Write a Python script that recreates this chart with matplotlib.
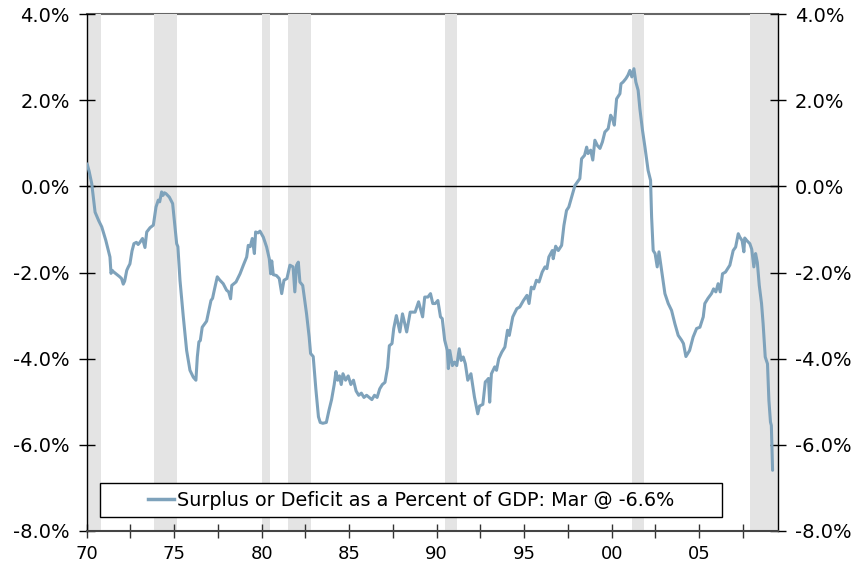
import matplotlib
matplotlib.use("Agg")
import matplotlib.pyplot as plt
from matplotlib.patches import Rectangle
from matplotlib.lines import Line2D

# ---------------- data ----------------
dates = [
    1970.00, 1970.05, 1970.15, 1970.30, 1970.49, 1970.70, 1970.87, 1971.10, 1971.34, 1971.40,
    1971.47, 1971.53, 1971.72, 1971.90, 1972.00, 1972.10, 1972.18, 1972.30, 1972.39, 1972.48,
    1972.60, 1972.71, 1972.85, 1972.95, 1973.05, 1973.20, 1973.34, 1973.44, 1973.55, 1973.63,
    1973.82, 1973.97, 1974.10, 1974.18, 1974.29, 1974.37, 1974.45, 1974.54, 1974.73, 1974.92,
    1975.05, 1975.15, 1975.22, 1975.34, 1975.53, 1975.72, 1975.91, 1976.10, 1976.25, 1976.33,
    1976.42, 1976.50, 1976.61, 1976.86, 1977.11, 1977.20, 1977.30, 1977.47, 1977.60, 1977.81,
    1978.00, 1978.12, 1978.23, 1978.30, 1978.54, 1978.77, 1978.96, 1979.15, 1979.24, 1979.35,
    1979.47, 1979.59, 1979.66, 1979.80, 1979.91, 1980.10, 1980.29, 1980.44, 1980.52, 1980.58,
    1980.67, 1980.85, 1981.01, 1981.15, 1981.28, 1981.45, 1981.62, 1981.80, 1981.90, 1982.00,
    1982.10, 1982.19, 1982.35, 1982.57, 1982.72, 1982.80, 1982.95, 1983.10, 1983.25, 1983.35,
    1983.50, 1983.70, 1983.85, 1984.00, 1984.15, 1984.25, 1984.35, 1984.45, 1984.55, 1984.65,
    1984.80, 1984.95, 1985.10, 1985.25, 1985.40, 1985.55, 1985.70, 1985.85, 1986.00, 1986.15,
    1986.30, 1986.45, 1986.60, 1986.75, 1986.90, 1987.05, 1987.20, 1987.30, 1987.45, 1987.55,
    1987.70, 1987.90, 1988.05, 1988.29, 1988.49, 1988.77, 1988.97, 1989.20, 1989.32, 1989.50,
    1989.65, 1989.78, 1989.92, 1990.07, 1990.22, 1990.32, 1990.46, 1990.61, 1990.67, 1990.75,
    1990.90, 1991.02, 1991.15, 1991.29, 1991.40, 1991.52, 1991.64, 1991.78, 1991.96, 1992.16,
    1992.35, 1992.45, 1992.64, 1992.78, 1992.88, 1992.96, 1993.03, 1993.13, 1993.32, 1993.42,
    1993.55, 1993.72, 1993.90, 1994.05, 1994.15, 1994.35, 1994.58, 1994.75, 1994.96, 1995.16,
    1995.28, 1995.41, 1995.55, 1995.70, 1995.85, 1996.03, 1996.19, 1996.30, 1996.41, 1996.61,
    1996.66, 1996.80, 1996.95, 1997.14, 1997.27, 1997.42, 1997.55, 1997.71, 1997.90, 1998.18,
    1998.28, 1998.45, 1998.57, 1998.65, 1998.80, 1998.92, 1999.04, 1999.18, 1999.33, 1999.47,
    1999.61, 1999.80, 1999.94, 2000.05, 2000.15, 2000.28, 2000.47, 2000.53, 2000.65, 2000.81,
    2000.93, 2001.04, 2001.15, 2001.27, 2001.38, 2001.51, 2001.61, 2001.76, 2001.90, 2002.08,
    2002.22, 2002.28, 2002.37, 2002.48, 2002.60, 2002.70, 2002.85, 2003.04, 2003.23, 2003.42,
    2003.61, 2003.80, 2003.99, 2004.10, 2004.24, 2004.45, 2004.65, 2004.85, 2005.04, 2005.23,
    2005.32, 2005.50, 2005.70, 2005.82, 2005.95, 2006.08, 2006.20, 2006.33, 2006.50, 2006.75,
    2006.94, 2007.08, 2007.23, 2007.32, 2007.45, 2007.55, 2007.60, 2007.72, 2007.89, 2008.00,
    2008.12, 2008.22, 2008.32, 2008.43, 2008.56, 2008.65, 2008.77, 2008.90, 2008.98, 2009.07,
    2009.12, 2009.19,
]
values = [
    0.53, 0.50, 0.35, 0.06, -0.60, -0.80, -0.94, -1.25, -1.64, -2.02,
    -1.95, -1.98, -2.04, -2.10, -2.14, -2.27, -2.20, -1.95, -1.87, -1.80,
    -1.50, -1.33, -1.30, -1.35, -1.30, -1.21, -1.42, -1.06, -1.00, -0.96,
    -0.90, -0.48, -0.32, -0.36, -0.13, -0.21, -0.15, -0.17, -0.25, -0.40,
    -0.94, -1.33, -1.40, -2.18, -3.03, -3.81, -4.27, -4.43, -4.50, -3.96,
    -3.61, -3.58, -3.27, -3.13, -2.65, -2.60, -2.41, -2.10, -2.17, -2.26,
    -2.41, -2.45, -2.61, -2.30, -2.22, -2.03, -1.83, -1.64, -1.37, -1.40,
    -1.21, -1.56, -1.06, -1.08, -1.04, -1.18, -1.41, -1.68, -2.03, -1.73,
    -2.05, -2.07, -2.14, -2.49, -2.18, -2.14, -1.83, -1.87, -2.45, -1.83,
    -1.76, -2.22, -2.30, -2.96, -3.50, -3.88, -3.95, -4.70, -5.35, -5.48,
    -5.50, -5.48, -5.20, -4.95, -4.60, -4.30, -4.50, -4.40, -4.60, -4.35,
    -4.50, -4.40, -4.60, -4.50, -4.75, -4.85, -4.80, -4.90, -4.85, -4.90,
    -4.95, -4.85, -4.90, -4.70, -4.60, -4.55, -4.20, -3.70, -3.65, -3.30,
    -3.00, -3.38, -2.96, -3.38, -2.92, -2.92, -2.68, -3.03, -2.57, -2.57,
    -2.49, -2.72, -2.72, -2.65, -3.03, -3.07, -3.57, -3.81, -4.23, -3.81,
    -4.16, -4.08, -4.16, -3.77, -4.04, -3.96, -4.12, -4.50, -4.35, -4.89,
    -5.28, -5.10, -5.06, -4.54, -4.50, -4.46, -5.01, -4.35, -4.19, -4.27,
    -4.00, -3.85, -3.73, -3.34, -3.46, -3.03, -2.84, -2.80, -2.65, -2.53,
    -2.72, -2.34, -2.38, -2.18, -2.22, -1.99, -1.87, -1.91, -1.64, -1.49,
    -1.68, -1.39, -1.49, -1.37, -0.91, -0.56, -0.48, -0.25, 0.02, 0.18,
    0.64, 0.72, 0.91, 0.76, 0.84, 0.61, 1.07, 0.95, 0.88, 1.03,
    1.26, 1.34, 1.65, 1.57, 1.42, 2.03, 2.15, 2.38, 2.42, 2.50,
    2.58, 2.69, 2.54, 2.73, 2.42, 2.23, 1.80, 1.30, 0.91, 0.37,
    0.14, -0.71, -1.49, -1.56, -1.87, -1.52, -1.95, -2.49, -2.72, -2.88,
    -3.19, -3.46, -3.57, -3.65, -3.95, -3.81, -3.50, -3.30, -3.27, -3.03,
    -2.72, -2.60, -2.49, -2.38, -2.45, -2.26, -2.45, -2.03, -1.99, -1.83,
    -1.49, -1.41, -1.10, -1.18, -1.26, -1.52, -1.20, -1.26, -1.33, -1.46,
    -1.87, -1.56, -1.77, -2.30, -2.72, -3.19, -3.96, -4.12, -4.97, -5.47,
    -5.55, -6.59,
]

recession_start = [1969.92, 1973.83, 1980.00, 1981.50, 1990.50, 2001.17, 2007.92]
recession_end = [1970.83, 1975.17, 1980.50, 1982.83, 1991.17, 2001.83, 2009.50]

x_ticks = [1970, 1972.5, 1975, 1977.5, 1980, 1982.5, 1985, 1987.5, 1990, 1992.5,
           1995, 1997.5, 2000, 2002.5, 2005, 2007.5]
x_labels = ["70", "", "75", "", "80", "", "85", "", "90", "", "95", "", "00", "", "05", ""]
y_ticks = [-8, -6, -4, -2, 0, 2, 4]
y_labels = ["-8.0%", "-6.0%", "-4.0%", "-2.0%", "0.0%", "2.0%", "4.0%"]

series_label = "Surplus or Deficit as a Percent of GDP: Mar @ -6.6%"

LINE_COLOR = "#7ea2bb"
SHADE_COLOR = "#e4e4e4"

# ---------------- figure ----------------
W, H = 861, 568
fig = plt.figure(figsize=(W / 100, H / 100), dpi=100)
L, R, T, B = 86.5, 778, 14, 531
ax = fig.add_axes([L / W, 1 - B / H, (R - L) / W, (B - T) / H])

for s, e in zip(recession_start, recession_end):
    ax.axvspan(s, e, color=SHADE_COLOR, lw=0, zorder=1)

ax.axhline(0, color="black", lw=1.0, zorder=2)
ax.plot(dates, values, color=LINE_COLOR, lw=2.2, zorder=3,
        solid_joinstyle="round", solid_capstyle="round")

ax.set_xlim(1970, 2009.5)
ax.set_ylim(-8, 4)

ax.set_xticks(x_ticks)
ax.set_xticklabels(x_labels)
ax.set_yticks(y_ticks)
ax.set_yticklabels(y_labels)

ax.tick_params(axis="x", direction="inout", length=10, width=1, color="#333333",
               labelsize=13, pad=5)
ax.tick_params(axis="y", direction="inout", length=12, width=1, color="black",
               labelsize=14, pad=6, left=True, right=True, labelleft=True, labelright=True)

for side in ["left", "right"]:
    ax.spines[side].set_color("black")
    ax.spines[side].set_linewidth(1.0)
ax.spines["top"].set_color("#666666")
ax.spines["top"].set_linewidth(1.5)
ax.spines["top"].set_zorder(0.5)
ax.spines["bottom"].set_color("#444444")
ax.spines["bottom"].set_linewidth(1.5)

# legend box
bx0 = (100 - L) / (R - L)
bx1 = (722 - L) / (R - L)
by0 = (B - 517) / (B - T)
by1 = (B - 483) / (B - T)
ax.add_patch(Rectangle((bx0, by0), bx1 - bx0, by1 - by0, transform=ax.transAxes,
                       facecolor="white", edgecolor="black", lw=1.0, zorder=5))
handle = Line2D([], [], color=LINE_COLOR, lw=2.5)
leg = ax.legend([handle], [series_label], loc="center",
                bbox_to_anchor=((bx0 + bx1) / 2, (by0 + by1) / 2),
                bbox_transform=ax.transAxes, frameon=False, fontsize=13.8,
                handlelength=1.4, handletextpad=0.15, borderpad=0)
leg.set_zorder(6)

fig.savefig("out.png", dpi=100)
